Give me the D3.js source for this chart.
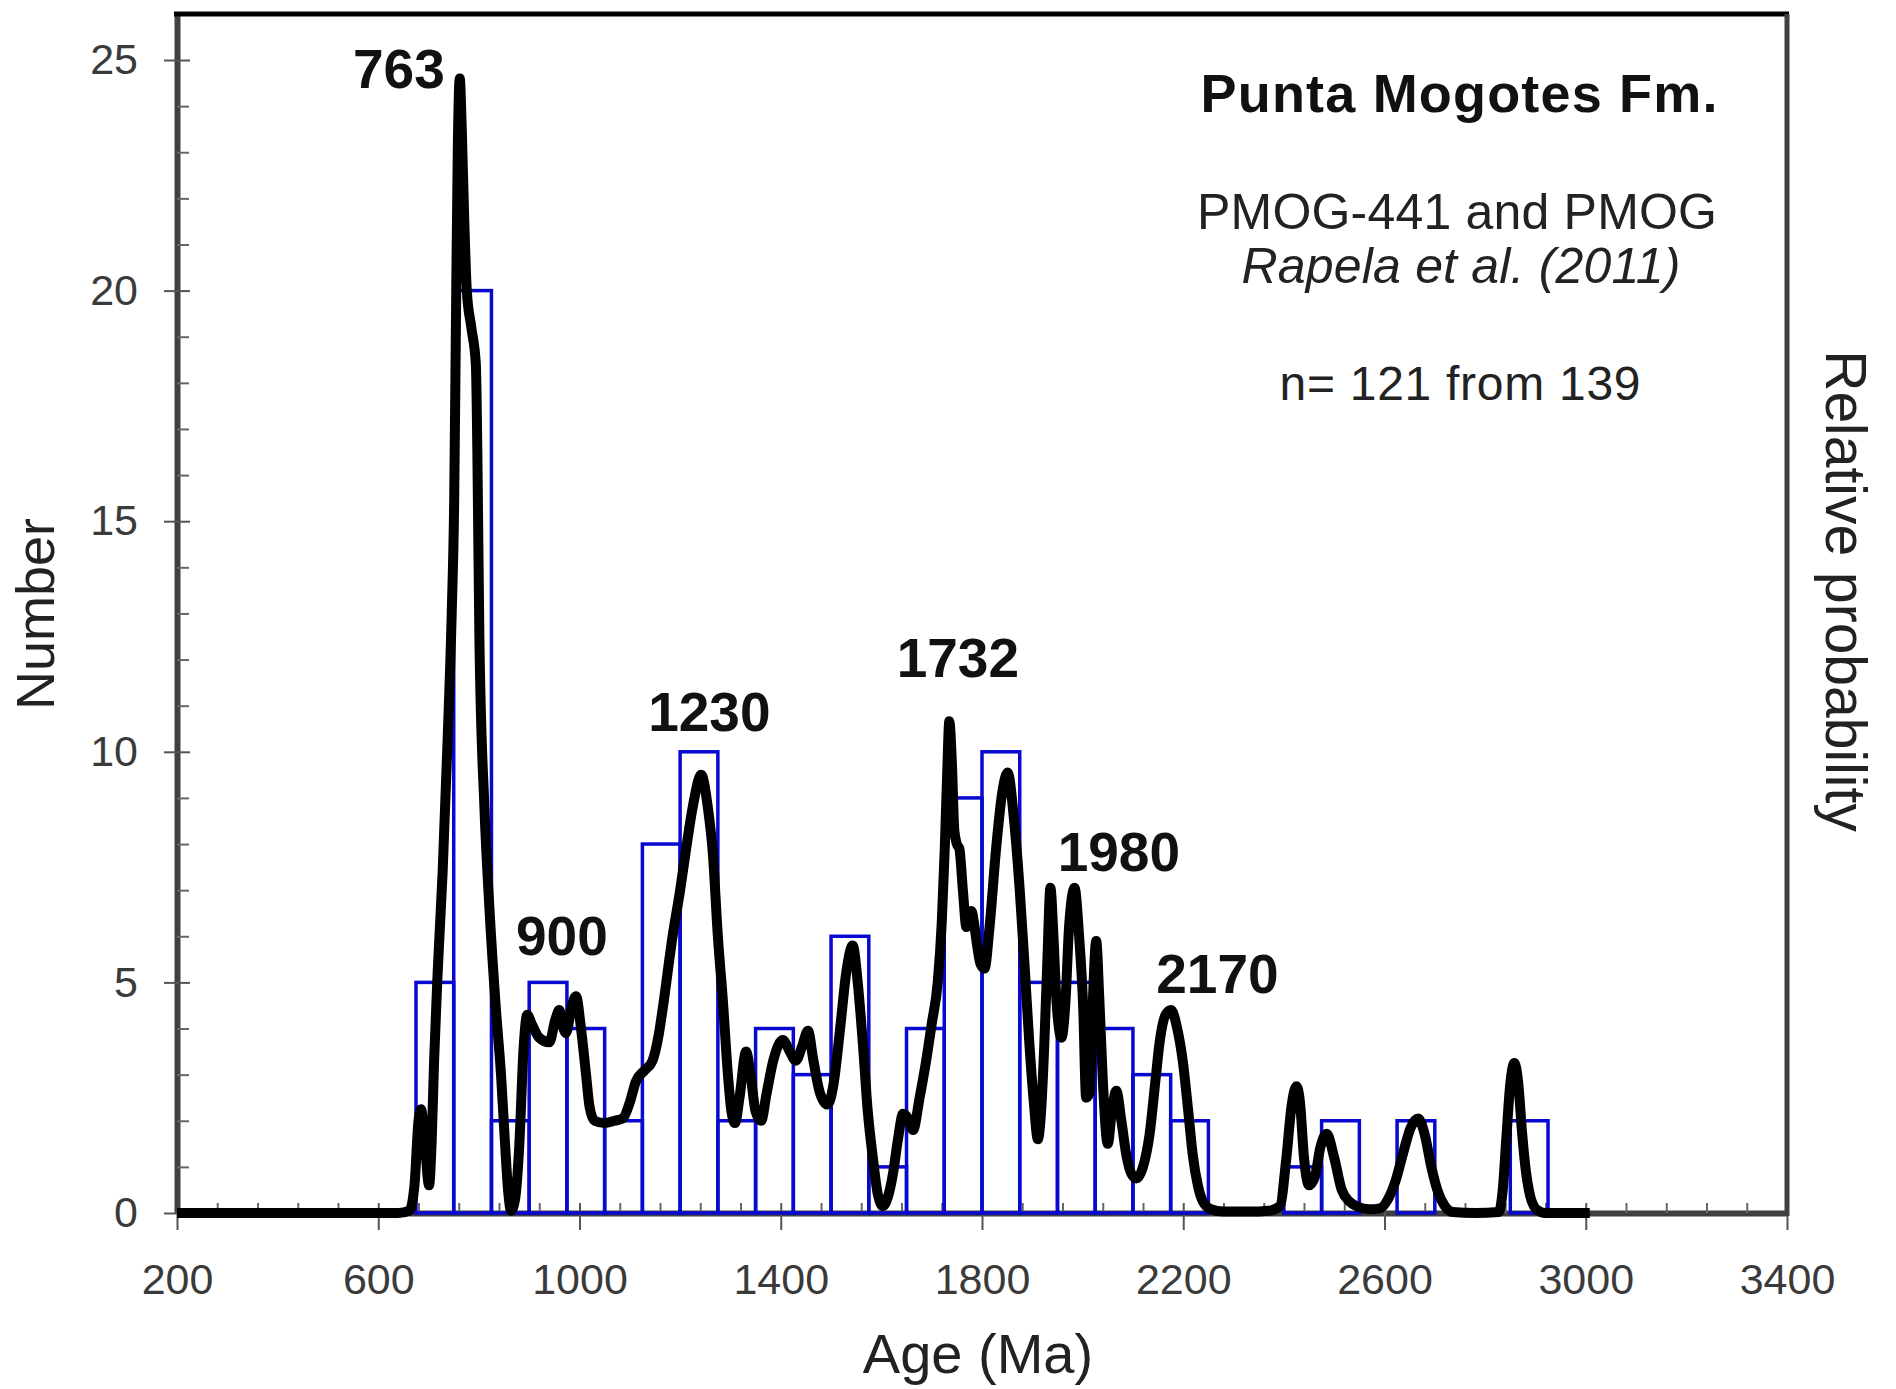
<!DOCTYPE html>
<html>
<head>
<meta charset="utf-8">
<script src="https://cdn.jsdelivr.net/npm/d3@7"></script>
<style>
  body { margin: 0; background: #fff; }
  text { font-family: "Liberation Sans", Arial, sans-serif; }
</style>
</head>
<body>
<svg id="chart" width="1896" height="1389"></svg>
<script>
// histogram: 75 Ma bins
let binStart = [675, 750, 825, 900, 975, 1050, 1125, 1200, 1275, 1350, 1425, 1500, 1575, 1650, 1725,
                1800, 1875, 1950, 2025, 2100, 2175, 2250, 2325, 2400, 2475, 2550, 2625, 2700, 2775, 2850];
let binCount = [5, 20, 2, 5, 4, 2, 8, 10, 2, 4, 3, 6, 1, 4, 9,
                10, 5, 5, 4, 3, 2, 0, 0, 1, 2, 0, 2, 0, 0, 2];
let binWidth = 75;

// relative probability curve (in left-axis units)
let probAge = [200, 640, 662, 672, 680, 685, 692, 701, 706, 711, 718, 728, 738, 746, 751, 755, 758, 762, 766, 771,
  776, 785, 794, 797, 801, 811, 821, 834, 844, 852, 858, 864, 872, 880, 889, 896, 905, 920, 940, 952,
  960, 968, 973, 985, 993, 1003, 1013, 1020, 1030, 1050, 1070, 1086, 1100, 1112, 1130, 1145, 1158, 1165, 1185, 1200,
  1212, 1225, 1242, 1255, 1265, 1275, 1285, 1295, 1302, 1309, 1318, 1331, 1340, 1350, 1361, 1372, 1385, 1404, 1418, 1430,
  1442, 1454, 1465, 1478, 1493, 1505, 1518, 1530, 1543, 1553, 1563, 1573, 1583, 1593, 1603, 1613, 1623, 1633, 1643, 1653,
  1663, 1676, 1689, 1700, 1712, 1720, 1726, 1731, 1735, 1740, 1745, 1750, 1755, 1762, 1769, 1774, 1779, 1784, 1789, 1797,
  1805, 1815, 1828, 1840, 1851, 1863, 1875, 1885, 1894, 1903, 1911, 1918, 1924, 1930, 1936, 1942, 1948, 1958, 1966, 1973,
  1984, 1993, 2001, 2007, 2014, 2020, 2027, 2033, 2040, 2050, 2058, 2067, 2077, 2087, 2097, 2107, 2120, 2133, 2145, 2153,
  2165, 2176, 2188, 2199, 2210, 2219, 2229, 2239, 2255, 2280, 2330, 2370, 2392, 2405, 2415, 2425, 2432, 2440, 2450, 2462,
  2472, 2485, 2500, 2515, 2530, 2546, 2570, 2591, 2607, 2622, 2637, 2652, 2667, 2680, 2693, 2705, 2720, 2736, 2780, 2827,
  2835, 2842, 2850, 2858, 2866, 2873, 2880, 2890, 2903, 2920, 3008];
let probValue = [0, 0, 0.05, 0.6, 2.0, 2.25, 1.6, 0.6, 1.5, 3.3, 5.2, 7.4, 10.3, 13.0, 15.5, 20.0, 23.0, 24.6, 23.5, 21.5,
  20.0, 19.2, 18.4, 16.5, 12.5, 8.8, 6.6, 4.4, 3.0, 1.5, 0.5, 0.05, 0.3, 1.4, 3.6, 4.3, 4.1, 3.8, 3.7, 4.2,
  4.4, 4.0, 3.9, 4.5, 4.7, 4.0, 3.0, 2.3, 2.0, 1.95, 2.0, 2.05, 2.4, 2.85, 3.1, 3.3, 3.9, 4.4, 6.0, 7.0,
  7.9, 8.8, 9.5, 8.8, 7.8, 6.0, 4.6, 3.0, 2.2, 1.95, 2.5, 3.5, 3.0, 2.2, 2.0, 2.6, 3.3, 3.75, 3.5, 3.3,
  3.6, 3.95, 3.3, 2.6, 2.35, 2.8, 4.0, 5.2, 5.8, 5.0, 3.7, 2.2, 1.2, 0.4, 0.15, 0.35, 0.85, 1.6, 2.15, 2.05,
  1.8, 2.5, 3.3, 4.1, 5.0, 6.3, 7.9, 9.6, 10.66, 9.8, 8.3, 8.0, 7.9, 7.0, 6.2, 6.4, 6.55, 6.3, 5.9, 5.4,
  5.3, 6.2, 7.9, 9.1, 9.55, 8.6, 7.0, 5.3, 3.7, 2.4, 1.6, 2.3, 3.7, 5.5, 7.05, 6.0, 4.6, 3.8, 4.6, 6.2,
  7.05, 6.0, 4.5, 2.5, 2.6, 4.5, 5.9, 4.7, 2.9, 1.5, 2.2, 2.65, 2.0, 1.25, 0.85, 0.75, 1.0, 1.7, 2.9, 3.7,
  4.3, 4.4, 4.0, 3.3, 2.2, 1.25, 0.6, 0.25, 0.08, 0.03, 0.03, 0.05, 0.15, 1.2, 2.3, 2.75, 2.4, 1.2, 0.6, 0.8,
  1.4, 1.72, 1.2, 0.5, 0.25, 0.14, 0.08, 0.1, 0.3, 0.7, 1.3, 1.85, 2.05, 1.7, 1.0, 0.5, 0.15, 0.02, 0, 0.02,
  0.5, 1.6, 2.8, 3.25, 2.8, 1.8, 1.0, 0.35, 0.07, 0, 0];

let xMajor = [200, 600, 1000, 1400, 1800, 2200, 2600, 3000, 3400];
let yMajor = [0, 5, 10, 15, 20, 25];
let yMinor = [1, 2, 3, 4, 6, 7, 8, 9, 11, 12, 13, 14, 16, 17, 18, 19, 21, 22, 23, 24];

let peakAge = [763, 900, 1230, 1732, 1980, 2170];
let peakLabelX = [641, 965, 1258, 1752, 2072, 2268];
let peakLabelY = [24.4, 5.6, 10.45, 11.62, 7.42, 4.76];

let chart = d3.select("#chart");
let left = 177, right = 1787, bottom = 1213;

let xScale = d3.scaleLinear().domain([200, 3400]).range([left, right]);
let yScale = d3.scaleLinear().domain([0, 26]).range([bottom, bottom - 26 * 46.12]);
let yProb = d3.scaleLinear().domain([0, 26]).range(yScale.range());
let top_y = yScale(26);

// axes
let xAxis = chart.append("g")
    .attr("transform", "translate(0," + bottom + ")")
    .call(d3.axisBottom(xScale).tickValues(xMajor).tickFormat(d3.format("d"))
          .tickSizeOuter(0).tickSizeInner(17).tickPadding(33));
xAxis.select(".domain").attr("stroke", "#404040").attr("stroke-width", 6);
xAxis.selectAll(".tick line").attr("y1", -10).attr("stroke", "#555").attr("stroke-width", 2);
xAxis.selectAll(".tick text").attr("font-size", 43).attr("fill", "#3a3a3a")
    .style("font-family", "Liberation Sans, Arial, sans-serif");

let xMinor = d3.range(200, 3400, 80).filter(v => (v - 200) % 400 !== 0);
chart.append("g")
    .attr("transform", "translate(0," + bottom + ")")
    .call(d3.axisTop(xScale).tickValues(xMinor).tickSize(10).tickFormat(""))
    .call(g => g.select(".domain").remove())
    .selectAll(".tick line").attr("stroke", "#666").attr("stroke-width", 2);

let yAxis = chart.append("g")
    .attr("transform", "translate(" + left + ",0)")
    .call(d3.axisLeft(yScale).tickValues(yMajor).tickSizeOuter(0).tickSizeInner(13).tickPadding(26));
yAxis.select(".domain").attr("stroke", "#404040").attr("stroke-width", 6);
yAxis.selectAll(".tick line").attr("x1", 13).attr("stroke", "#555").attr("stroke-width", 2);
yAxis.selectAll(".tick text").attr("font-size", 43).attr("fill", "#3a3a3a")
    .style("font-family", "Liberation Sans, Arial, sans-serif");

chart.append("g")
    .attr("transform", "translate(" + left + ",0)")
    .call(d3.axisRight(yScale).tickValues(yMinor).tickSize(12).tickFormat(""))
    .call(g => g.select(".domain").remove())
    .selectAll(".tick line").attr("stroke", "#666").attr("stroke-width", 2);

// frame top and right
chart.append("line")
    .attr("x1", left - 3).attr("x2", right + 2)
    .attr("y1", top_y).attr("y2", top_y)
    .attr("stroke", "#000").attr("stroke-width", 5);
chart.append("line")
    .attr("x1", right).attr("x2", right)
    .attr("y1", top_y).attr("y2", bottom + 3)
    .attr("stroke", "#404040").attr("stroke-width", 5);

// histogram bars
let bins = binStart.map((s, i) => ({start: s, count: binCount[i]})).filter(d => d.count > 0);
chart.selectAll("rect.bar")
    .data(bins).enter()
    .append("rect")
        .attr("class", "bar")
        .attr("x", d => xScale(d.start))
        .attr("width", d => xScale(d.start + binWidth) - xScale(d.start))
        .attr("y", d => yScale(d.count))
        .attr("height", d => yScale(0) - yScale(d.count))
        .attr("fill", "none")
        .attr("stroke", "#0808d0")
        .attr("stroke-width", 3.5);

// probability curve
let curvePts = probAge.map((a, i) => [a, probValue[i]]);
let line = d3.line()
    .x(d => xScale(d[0]))
    .y(d => yProb(d[1]))
    .curve(d3.curveMonotoneX);
chart.append("path")
    .datum(curvePts)
    .attr("d", line)
    .attr("fill", "none")
    .attr("stroke", "#000")
    .attr("stroke-width", 10)
    .attr("stroke-linejoin", "round");

// peak labels
chart.selectAll("text.peak")
    .data(peakAge).enter()
    .append("text")
        .attr("class", "peak")
        .attr("x", (d, i) => xScale(peakLabelX[i]))
        .attr("y", (d, i) => yScale(peakLabelY[i]))
        .attr("text-anchor", "middle")
        .attr("font-size", 55)
        .attr("font-weight", "bold")
        .attr("fill", "#111")
        .text(d => d);

// axis titles
chart.append("text")
    .attr("transform", "translate(54,614) rotate(-90)")
    .attr("text-anchor", "middle")
    .attr("font-size", 54)
    .attr("fill", "#222")
    .text("Number");

chart.append("text")
    .attr("x", 978).attr("y", 1373)
    .attr("text-anchor", "middle")
    .attr("font-size", 56)
    .attr("fill", "#222")
    .text("Age (Ma)");

chart.append("text")
    .attr("transform", "translate(1826,591) rotate(90)")
    .attr("text-anchor", "middle")
    .attr("font-size", 57)
    .attr("fill", "#222")
    .text("Relative probability");

// annotation block
chart.append("text")
    .attr("x", 1459).attr("y", 112)
    .attr("text-anchor", "middle")
    .attr("font-size", 54).attr("font-weight", "bold")
    .attr("textLength", 517).attr("lengthAdjust", "spacing")
    .attr("fill", "#111")
    .text("Punta Mogotes Fm.");

chart.append("text")
    .attr("x", 1457).attr("y", 229)
    .attr("text-anchor", "middle")
    .attr("font-size", 50)
    .attr("textLength", 520).attr("lengthAdjust", "spacing")
    .attr("fill", "#222")
    .text("PMOG-441 and PMOG");

chart.append("text")
    .attr("x", 1461).attr("y", 283)
    .attr("text-anchor", "middle")
    .attr("font-size", 50).attr("font-style", "italic")
    .attr("textLength", 439).attr("lengthAdjust", "spacing")
    .attr("fill", "#222")
    .text("Rapela et al. (2011)");

chart.append("text")
    .attr("x", 1460).attr("y", 400)
    .attr("text-anchor", "middle")
    .attr("font-size", 48)
    .attr("textLength", 361).attr("lengthAdjust", "spacing")
    .attr("fill", "#222")
    .text("n= 121 from 139");
</script>
</body>
</html>
